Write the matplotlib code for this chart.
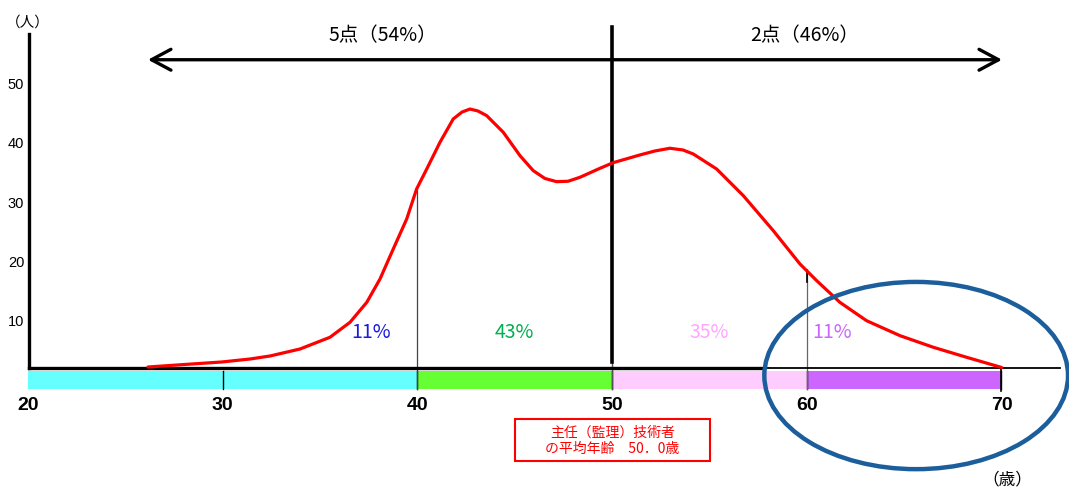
import matplotlib.pyplot as plt
from matplotlib.patches import Rectangle, Ellipse

plt.rcParams['font.family'] = ['Noto Sans CJK JP', 'DejaVu Sans']

# 年齢別の人数分布（曲線）
ages = [26.16, 28.06, 29.96, 31.40, 32.43, 33.97, 35.51, 36.54, 37.40, 38.08,
        38.76, 39.45, 39.96, 40.48, 41.16, 41.84, 42.29, 42.70, 43.11, 43.56,
        44.41, 45.27, 45.95, 46.55, 47.15, 47.74, 48.35, 49.38, 50.06, 51.43,
        52.20, 52.97, 53.64, 54.17, 55.37, 56.74, 58.28, 59.65, 60.51, 61.70,
        63.07, 64.79, 66.50, 68.21, 70.01]
counts = [2.24, 2.67, 3.09, 3.59, 4.10, 5.28, 7.26, 9.79, 13.16, 17.10,
          22.16, 27.22, 32.29, 35.66, 40.17, 44.10, 45.27, 45.78, 45.45, 44.66,
          41.86, 37.91, 35.38, 34.06, 33.52, 33.59, 34.26, 35.78, 36.73, 38.03,
          38.70, 39.16, 38.87, 38.19, 35.66, 31.16, 25.25, 19.63, 16.81, 13.16,
          10.06, 7.53, 5.57, 3.88, 2.16]

# 年齢帯ごとの割合
band_edges = [20, 40, 50, 60, 70]
band_colors = ['#66FFFF', '#66FF33', '#FFCCFF', '#CC66FF']
band_labels = ['11%', '43%', '35%', '11%']
band_label_x = [37.6, 45.0, 55.0, 61.3]
band_label_colors = ['#1A1AE0', '#00B050', '#FFA6FF', '#CC66FF']

x_ticks = [20, 30, 40, 50, 60, 70]
y_ticks = [10, 20, 30, 40, 50]

score_labels = ['5点（54%）', '2点（46%）']
score_label_x = [38.2, 59.9]

fig = plt.figure(figsize=(10.69, 4.89), dpi=100)
ax = fig.add_axes([0, 0, 1, 1])
ax.set_xlim(18.56, 73.47)
ax.set_ylim(-18.18, 64.35)
ax.axis('off')

# 下の色帯
bar_bottom, bar_top = -1.5, 1.6
for i, c in enumerate(band_colors):
    ax.add_patch(Rectangle((band_edges[i], bar_bottom), band_edges[i + 1] - band_edges[i],
                           bar_top - bar_bottom, facecolor=c, edgecolor='none', zorder=1))
for t in x_ticks[1:]:
    ax.plot([t, t], [bar_bottom, bar_top], color='black', lw=1, zorder=2)
ax.plot([70, 70], [bar_bottom - 0.3, 2.1], color='black', lw=1.2, zorder=2)

# 軸
ax.plot([20.05, 57.7], [2.1, 2.1], color='black', lw=2.4, zorder=3)
ax.plot([57.7, 73.0], [2.1, 2.1], color='black', lw=1.3, zorder=3)
ax.plot([20.05, 20.05], [2.1, 58.4], color='black', lw=2.4, zorder=3)

for t in y_ticks:
    ax.text(19.8, t, str(t), ha='right', va='center', fontsize=10.5,
            family='Liberation Sans')
for t in x_ticks:
    ax.text(t, -4.1, str(t), ha='center', va='center', fontsize=14,
            fontweight='bold', family='Liberation Sans')
ax.text(20.0, 60.6, '（人）', ha='center', va='center', fontsize=10.5)
ax.text(70.3, -16.7, '（歳）', ha='center', va='center', fontsize=12)

# 区切り線
ax.plot([40, 40], [bar_bottom, 32.6], color='#444444', lw=0.9, zorder=2)
ax.plot([60, 60], [bar_bottom, 18.6], color='#666666', lw=0.9, zorder=2)
ax.plot([60, 60], [16.6, 18.6], color='black', lw=1.2, zorder=2)
ax.plot([50, 50], [3.1, 59.6], color='black', lw=2.6, zorder=4)
ax.plot([50, 50], [bar_bottom, 3.1], color='#555555', lw=1, zorder=2)

# 分布曲線
ax.plot(ages, counts, color='#FF0000', lw=2.3, zorder=5,
        solid_joinstyle='round', solid_capstyle='round')

for lbl, x, c in zip(band_labels, band_label_x, band_label_colors):
    ax.text(x, 8.3, lbl, ha='center', va='center', fontsize=14, color=c, zorder=6)

# 上の両矢印
ax.annotate('', xy=(70.03, 54.1), xytext=(26.16, 54.1),
            arrowprops=dict(arrowstyle='<->,head_length=1.4,head_width=0.75',
                            lw=2.4, color='black', shrinkA=0, shrinkB=0,
                            mutation_scale=10))
for lbl, x in zip(score_labels, score_label_x):
    ax.text(x, 58.3, lbl, ha='center', va='center', fontsize=14)

# 平均年齢の枠
ax.add_patch(Rectangle((45.01, -13.62), 10.02, 7.09, facecolor='white',
                       edgecolor='#FF0000', lw=1.5, zorder=6))
ax.text(50.02, -10.1, '主任（監理）技術者\nの平均年齢　50．0歳', ha='center',
        va='center', fontsize=10, color='#FF0000', linespacing=1.2, zorder=7)

# 60歳以上を囲む楕円
ax.add_patch(Ellipse((65.62, 0.8), 15.6, 31.6, facecolor='none',
                     edgecolor='#1B5E9B', lw=3.2, zorder=8))

fig.savefig('out.png', dpi=100)
